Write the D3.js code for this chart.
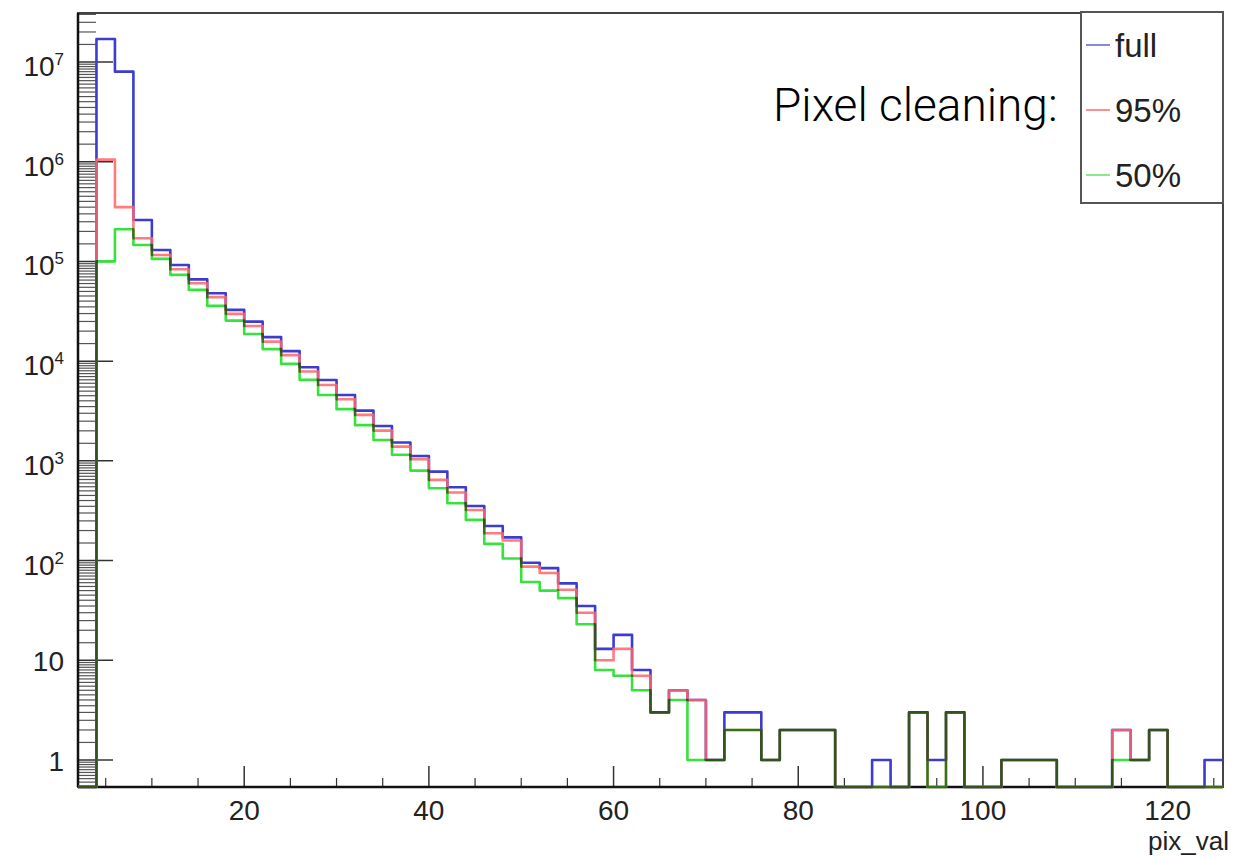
<!DOCTYPE html>
<html>
<head>
<meta charset="utf-8">
<script src="https://cdn.jsdelivr.net/npm/d3@7"></script>
<style>
  body { margin: 0; background: #fff; }
  text { font-family: "Liberation Sans", Arial, Helvetica, sans-serif; }
</style>
</head>
<body>
<div id="graph"></div>
<script>
// bins of width 2, from 2 to 126
var binEdges = d3.range(2, 127, 2);
var fullCounts = [0, 1.7e7, 8.0e6, 2.6e5, 1.30e5, 9.2e4, 6.6e4, 4.8e4, 3.27e4, 2.49e4,
    1.74e4, 1.26e4, 8690, 6470, 4580, 3190, 2240, 1530, 1120, 780,
    543, 353, 222, 171, 95, 84, 59, 35, 13, 18,
    8, 3, 5, 4, 1, 3, 3, 1, 2, 2,
    2, 0, 0, 1, 0, 3, 1, 3, 0, 0,
    1, 1, 1, 0, 0, 0, 2, 1, 2, 0,
    0, 1];
var clean95Counts = [0, 1.05e6, 3.5e5, 1.71e5, 1.16e5, 8.36e4, 6.04e4, 4.38e4, 2.98e4, 2.25e4,
    1.57e4, 1.15e4, 7870, 5770, 4150, 2890, 2010, 1390, 1040, 644,
    481, 322, 188, 159, 87, 75, 51, 30, 10, 13,
    7, 3, 5, 4, 1, 2, 2, 1, 2, 2,
    2, 0, 0, 0, 0, 3, 0, 3, 0, 0,
    1, 1, 1, 0, 0, 0, 2, 1, 2, 0,
    0, 0];
var clean50Counts = [0, 1.0e5, 2.1e5, 1.46e5, 1.06e5, 7.33e4, 5.18e4, 3.58e4, 2.55e4, 1.87e4,
    1.32e4, 9380, 6490, 4580, 3300, 2280, 1620, 1150, 798, 531,
    376, 256, 147, 105, 61, 50, 42, 23, 8, 7,
    5, 3, 4, 1, 1, 2, 2, 1, 2, 2,
    2, 0, 0, 0, 0, 3, 0, 3, 0, 0,
    1, 1, 1, 0, 0, 0, 1, 1, 2, 0,
    0, 0];
var seriesNames = ["full", "95%", "50%"];
var seriesColors = ["#3c3cd0", "#ff6468", "#38e23c"];
var legendColors = ["#8a8ad8", "#ff9090", "#8ee68e"];
var xMajorTicks = [20, 40, 60, 80, 100, 120];
var yMajorTicks = [1, 10, 1e2, 1e3, 1e4, 1e5, 1e6, 1e7];
var yTickLabels = ["1", "10", "10|2", "10|3", "10|4", "10|5", "10|6", "10|7"];

var margin = {top: 13, right: 13, bottom: 69, left: 78},
    width = 1236 - margin.left - margin.right,
    height = 856 - margin.top - margin.bottom;

var xScale = d3.scaleLinear()
    .domain([2, 126])
    .range([0, width]);
var yScale = d3.scaleLog()
    .domain([0.536, 3.1e7])
    .range([height, 0]);

var svg = d3.select("#graph")
    .append("svg")
    .attr("width", 1236)
    .attr("height", 856)
    .append("g")
    .attr("transform", "translate(" + margin.left + "," + margin.top + ")");

// minor ticks on the log axis (every half unit inside each decade)
var yMinor = [];
for (var e = -1; e <= 7; e++) {
    for (var k = 1; k < 10; k += 0.5) {
        var v = k * Math.pow(10, e);
        if (k != 1 && v >= 0.536 && v <= 3.1e7) yMinor.push(v);
    }
}
svg.append("g").selectAll("line")
    .data(yMinor)
    .enter()
    .append("line")
    .attr("x1", 0)
    .attr("x2", 18)
    .attr("y1", function(d) {return yScale(d);})
    .attr("y2", function(d) {return yScale(d);})
    .attr("stroke", "#555")
    .attr("stroke-width", 1.2);
svg.append("g").selectAll("line")
    .data(yMajorTicks)
    .enter()
    .append("line")
    .attr("x1", 0)
    .attr("x2", 35)
    .attr("y1", function(d) {return yScale(d);})
    .attr("y2", function(d) {return yScale(d);})
    .attr("stroke", "#333")
    .attr("stroke-width", 1.5);

// y labels, with superscript exponents
var ylab = svg.append("g").selectAll("text")
    .data(yMajorTicks)
    .enter()
    .append("text")
    .attr("x", -14)
    .attr("y", function(d, i) {return yScale(d) + (i > 1 ? 14 : 11);})
    .style("text-anchor", "end")
    .style("font-size", "28px")
    .style("fill", "#222");
ylab.each(function(d, i) {
    var parts = yTickLabels[i].split("|");
    var t = d3.select(this);
    t.append("tspan").text(parts[0]);
    if (parts.length > 1) {
        t.append("tspan")
            .attr("dy", -11)
            .style("font-size", "17px")
            .text(parts[1]);
    }
});

// x ticks
var xMinor = d3.range(5, 126, 5).filter(function(d) {return d % 20 != 0;});
svg.append("g").selectAll("line")
    .data(xMinor)
    .enter()
    .append("line")
    .attr("x1", function(d) {return xScale(d);})
    .attr("x2", function(d) {return xScale(d);})
    .attr("y1", height)
    .attr("y2", height - 9)
    .attr("stroke", "#333")
    .attr("stroke-width", 1.2);
svg.append("g").selectAll("line")
    .data(xMajorTicks)
    .enter()
    .append("line")
    .attr("x1", function(d) {return xScale(d);})
    .attr("x2", function(d) {return xScale(d);})
    .attr("y1", height)
    .attr("y2", height - 21)
    .attr("stroke", "#333")
    .attr("stroke-width", 1.5);
svg.append("g").selectAll("text")
    .data(xMajorTicks)
    .enter()
    .append("text")
    .attr("x", function(d) {return xScale(d);})
    .attr("y", height + 33)
    .style("text-anchor", "middle")
    .style("font-size", "28px")
    .style("fill", "#222")
    .text(function(d) {return d;});

// x axis title
svg.append("text")
    .attr("x", width + 6)
    .attr("y", height + 63)
    .style("text-anchor", "end")
    .style("font-size", "26px")
    .style("fill", "#222")
    .text("pix_val");

// frame
svg.append("rect")
    .attr("x", 0)
    .attr("y", 0)
    .attr("width", width)
    .attr("height", height)
    .attr("fill", "none")
    .attr("stroke", "#444")
    .attr("stroke-width", 2);
svg.append("line")
    .attr("x1", 0).attr("x2", 0)
    .attr("y1", 0).attr("y2", height)
    .attr("stroke", "#111")
    .attr("stroke-width", 2.5);
svg.append("line")
    .attr("x1", 0).attr("x2", width)
    .attr("y1", height).attr("y2", height)
    .attr("stroke", "#111")
    .attr("stroke-width", 2.5);

// histogram step lines (zero bins sit on the frame bottom)
function yPos(v) {
    return v > 0 ? yScale(v) : height;
}
function stepPath(counts) {
    var p = d3.path();
    p.moveTo(xScale(binEdges[0]), yPos(counts[0]));
    for (var i = 0; i < counts.length; i++) {
        if (i > 0) p.lineTo(xScale(binEdges[i]), yPos(counts[i]));
        p.lineTo(xScale(binEdges[i + 1]), yPos(counts[i]));
    }
    return p.toString();
}
var hists = svg.append("g").style("isolation", "isolate");
[fullCounts, clean95Counts, clean50Counts].forEach(function(counts, i) {
    hists.append("path")
        .attr("d", stepPath(counts))
        .attr("fill", "none")
        .attr("stroke", seriesColors[i])
        .attr("stroke-width", 2.6)
        .attr("stroke-linejoin", "round")
        .style("opacity", i == 1 ? 0.85 : 1)
        .style("mix-blend-mode", i == 2 ? "multiply" : "normal");
});

// legend box
var legX = 1081 - margin.left, legY = 12 - margin.top;
svg.append("rect")
    .attr("x", legX)
    .attr("y", legY)
    .attr("width", width - legX)
    .attr("height", 191)
    .attr("fill", "#fff")
    .attr("stroke", "#555")
    .attr("stroke-width", 2);
var legRows = [45, 110, 175];
seriesNames.forEach(function(name, i) {
    svg.append("line")
        .attr("x1", 1086 - margin.left)
        .attr("x2", 1110 - margin.left)
        .attr("y1", legRows[i] - margin.top)
        .attr("y2", legRows[i] - margin.top)
        .attr("stroke", legendColors[i])
        .attr("stroke-width", 2);
    svg.append("text")
        .attr("x", 1115 - margin.left)
        .attr("y", legRows[i] - margin.top + 12)
        .style("font-size", "33px")
        .style("fill", "#222")
        .text(name);
});

// annotation
svg.append("text")
    .attr("x", 773 - margin.left)
    .attr("y", 121 - margin.top)
    .style("font-family", "Roboto, 'Helvetica Neue', sans-serif")
    .style("font-weight", "300")
    .style("font-size", "46px")
    .style("fill", "#000")
    .text("Pixel cleaning:");
</script>
</body>
</html>
